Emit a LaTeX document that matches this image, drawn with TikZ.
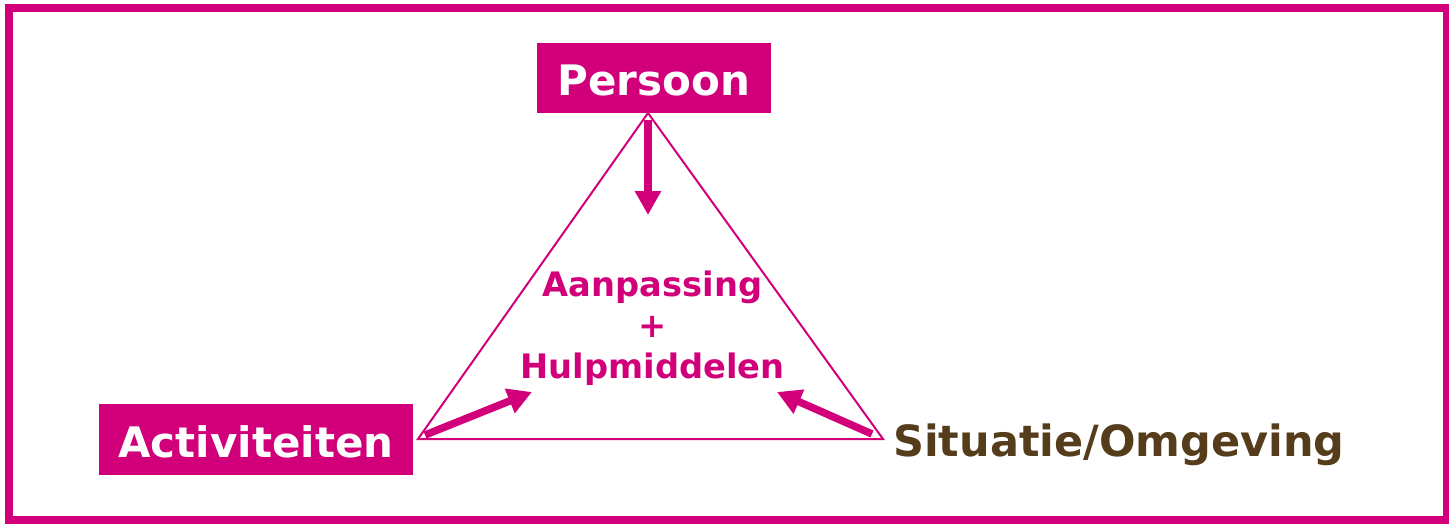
\documentclass[tikz,border=0pt]{standalone}
\usepackage{fontspec}
\setmainfont{DejaVu Sans}
\usetikzlibrary{arrows.meta}
\definecolor{pink}{RGB}{209,0,122}
\definecolor{brn}{RGB}{85,60,27}
\tikzset{
  label box/.style={fill=pink, text=white, inner sep=0pt, font=\bfseries\fontsize{42}{50}\selectfont},
  big arrow/.style={draw=pink, line width=8pt, -{Triangle[width=25pt,length=24pt]}},
}
\begin{document}
\begin{tikzpicture}[x=1pt,y=-1pt]
\useasboundingbox (0,0) rectangle (1449,523);
\draw[pink, line width=8pt] (9,8) rectangle (1447,519.5);
% nodes
\node[label box, minimum width=234pt, minimum height=70pt, text height=34pt, text depth=0pt] (persoon) at (654,78) {Persoon};
\node[label box, minimum width=314pt, minimum height=71pt, text height=35pt, text depth=0pt] (activ) at (256,439.5) {Activiteiten};
\node[anchor=base west, inner sep=0pt, text=brn, font=\bfseries\fontsize{43}{50}\selectfont] (situatie) at (893,456) {Situatie/Omgeving};
\node[anchor=north, inner sep=0pt, text=pink, align=center, font=\bfseries\fontsize{33.7}{41}\selectfont] (center) at (652.5,271) {Aanpassing\\+\\Hulpmiddelen};
% triangle
\coordinate (top) at (648,113);
\coordinate (bl) at (418,439);
\coordinate (br) at (883,439);
\draw[pink, line width=2pt, line join=miter] (top) -- (bl) -- (br) -- cycle;
% arrows
\coordinate (a1s) at (648,120);
\coordinate (a1e) at (648,215);
\coordinate (a2s) at (425,435);
\coordinate (a2e) at (532,392);
\coordinate (a3s) at (872,434);
\coordinate (a3e) at (777,392);
\draw[big arrow, line cap=butt] (a1s) -- (a1e);
\draw[big arrow, line width=7.5pt] (a2s) -- (a2e);
\draw[big arrow, line width=7.5pt] (a3s) -- (a3e);
\end{tikzpicture}
\end{document}
